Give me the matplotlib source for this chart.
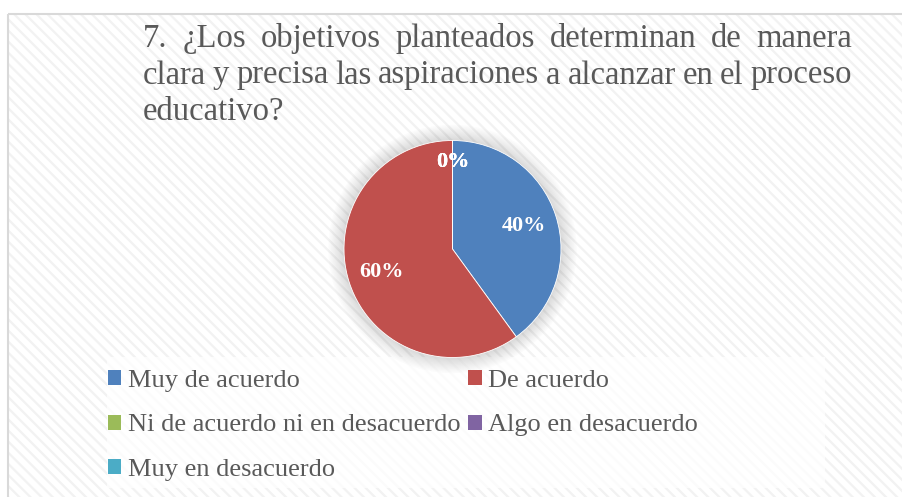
import matplotlib

matplotlib.use("Agg")
import matplotlib.pyplot as plt
from matplotlib.patches import Circle, Patch, Rectangle

categories = [
    "Muy de acuerdo",
    "De acuerdo",
    "Ni de acuerdo ni en desacuerdo",
    "Algo en desacuerdo",
    "Muy en desacuerdo",
]
values = [40, 60, 0, 0, 0]
colors = ["#4F81BD", "#C0504D", "#9BBB59", "#8064A2", "#4BACC6"]

title_lines = [
    "7. ¿Los objetivos planteados determinan de manera",
    "clara y precisa las aspiraciones a alcanzar en el proceso",
    "educativo?",
]

W, H = 903, 497
plt.rcParams["font.family"] = ["Liberation Serif", "DejaVu Serif"]
plt.rcParams["hatch.linewidth"] = 1.6


def draw_title(ax, fig):
    # justified text, like the word processor did it
    left, right = 143, 852
    baselines = [47, 83.5, 120]
    size = 23.5
    renderer = fig.canvas.get_renderer()
    for k, line in enumerate(title_lines):
        words = line.split(" ")
        texts = [
            ax.text(0, baselines[k], w, fontsize=size, color="#595959",
                    ha="left", va="baseline")
            for w in words
        ]
        widths = [t.get_window_extent(renderer).width for t in texts]
        if k < len(title_lines) - 1:
            gap = (right - left - sum(widths)) / (len(words) - 1)
        else:
            gap = 0.25 * size * 100 / 72
        x = left
        for t, w in zip(texts, widths):
            t.set_x(x)
            x += w + gap


if __name__ == "__main__":
    fig = plt.figure(figsize=(W / 100, H / 100), dpi=100)

    ax_bg = fig.add_axes([0, 0, 1, 1])
    ax_bg.set_xlim(0, W)
    ax_bg.set_ylim(H, 0)
    ax_bg.axis("off")

    ax_bg.add_patch(Rectangle((8, 14), W, H, facecolor="white",
                              edgecolor="#f2f2f2", hatch="\\\\\\", lw=0))
    ax_bg.add_patch(Rectangle((8, 14), W, H, facecolor="none",
                              edgecolor="#d9d9d9", lw=1.5))
    ax_bg.add_patch(Rectangle((107, 357), 718, 131, facecolor="white",
                              edgecolor="none", alpha=0.75))

    draw_title(ax_bg, fig)

    # pie: center (452.5, 249), radius 108.5 px
    cx, cy, r = 452.5, 249, 108.5
    ax = fig.add_axes([(cx - r) / W, (H - cy - r) / H, 2 * r / W, 2 * r / H])
    for i in range(12):
        ax.add_patch(Circle((0, 0), 1 + 0.012 * (i + 1), color="#7f7f7f",
                            alpha=0.022, lw=0, zorder=0, clip_on=False))
    wedges, _, autotexts = ax.pie(
        values,
        colors=colors,
        startangle=90,
        counterclock=False,
        autopct="%1.0f%%",
        pctdistance=0.69,
        wedgeprops={"edgecolor": "white", "linewidth": 0.6},
        textprops={"color": "white", "fontsize": 16, "fontweight": "bold"},
    )
    for t, v in zip(autotexts, values):
        if v == 0:
            x, y = t.get_position()
            t.set_position((x / 0.69 * 0.8, y / 0.69 * 0.8))
    ax.set_xlim(-1, 1)
    ax.set_ylim(-1, 1)
    ax.set_aspect("equal")
    ax.axis("off")

    handles = [Patch(facecolor=c, edgecolor="none") for c in colors]
    order = [0, 2, 4, 1, 3]
    fig.legend(
        [handles[i] for i in order],
        [categories[i] for i in order],
        ncol=2,
        loc="upper left",
        bbox_to_anchor=(108 / W, 1 - 370 / H),
        frameon=False,
        borderpad=0,
        borderaxespad=0,
        fontsize=19,
        handlelength=0.5,
        handleheight=0.5,
        handletextpad=0.25,
        columnspacing=0.3,
        labelspacing=0.85,
        labelcolor="#595959",
    )

    fig.savefig("out.png", dpi=100)
